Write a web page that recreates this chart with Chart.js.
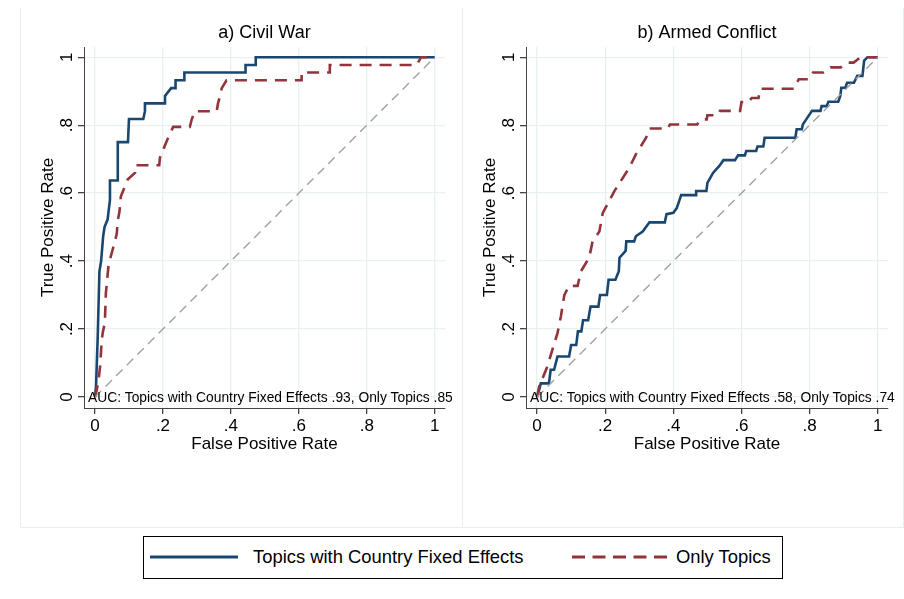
<!DOCTYPE html>
<html>
<head>
<meta charset="utf-8">
<script src="https://cdn.jsdelivr.net/npm/chart.js@4.4.1/dist/chart.umd.min.js"></script>
<style>
  body { margin: 0; background: #fff; font-family: "Liberation Sans", Arial, sans-serif; }
  #fig { position: relative; width: 904px; height: 599px; }
  .panel { position: absolute; top: 8px; height: 519px; border-left: 1px solid #e6eef0; border-bottom: 1px solid #e6eef0; }
  #panelA { left: 20px; width: 441px; }
  #panelB { left: 462px; width: 440px; border-right: 1px solid #e6eef0; }
  canvas { display: block; }
  #legend { position: absolute; left: 143px; top: 536px; width: 640px; height: 43px; box-sizing: border-box; border: 1px solid #000; font-size: 18.4px; color: #000; }
  #legend svg, #legend span { position: absolute; }
  #legend span { top: 9px; line-height: 22px; white-space: nowrap; }
</style>
</head>
<body>
<div id="fig">
  <div class="panel" id="panelA"><canvas id="civilWar" width="441" height="519"></canvas></div>
  <div class="panel" id="panelB"><canvas id="armedConflict" width="440" height="519"></canvas></div>
  <div id="legend">
    <svg style="left:6px;top:17px" width="90" height="6"><line x1="0" y1="3" x2="88" y2="3" stroke="#1a476f" stroke-width="3"/></svg>
    <span id="legFe" style="left:109px"></span>
    <svg style="left:428px;top:17px" width="98" height="6"><line x1="0" y1="3" x2="96" y2="3" stroke="#90353b" stroke-width="3" stroke-dasharray="13 7.5"/></svg>
    <span id="legTop" style="left:532px"></span>
  </div>
</div>
<script>
const seriesNames = ["Topics with Country Fixed Effects", "Only Topics"];
const panelTitles = ["a) Civil War", "b) Armed Conflict"];
const tickVals = [0, 0.2, 0.4, 0.6, 0.8, 1];
const tickLabels = ["0", ".2", ".4", ".6", ".8", "1"];

// ROC vertices (false positive rate, true positive rate)
const civilFeFpr = [0, 0.003, 0.008, 0.013, 0.018, 0.024, 0.028, 0.037, 0.044, 0.044, 0.067, 0.067, 0.097, 0.1, 0.142, 0.147, 0.147, 0.206, 0.206, 0.224, 0.237, 0.237, 0.263, 0.263, 0.443, 0.443, 0.473, 0.473, 1];
const civilFeTpr = [0, 0.03, 0.178, 0.37, 0.40, 0.473, 0.50, 0.522, 0.58, 0.637, 0.637, 0.75, 0.75, 0.818, 0.818, 0.841, 0.864, 0.864, 0.886, 0.909, 0.909, 0.932, 0.932, 0.955, 0.955, 0.977, 0.977, 1, 1];
const civilTopFpr = [0, 0.005, 0.011, 0.015, 0.02, 0.023, 0.029, 0.032, 0.04, 0.052, 0.064, 0.067, 0.072, 0.076, 0.096, 0.118, 0.118, 0.189, 0.191, 0.213, 0.23, 0.279, 0.285, 0.294, 0.358, 0.362, 0.368, 0.373, 0.387, 0.608, 0.608, 0.691, 0.691, 0.946, 0.96, 1];
const civilTopTpr = [0, 0.02, 0.055, 0.09, 0.17, 0.19, 0.22, 0.306, 0.39, 0.434, 0.48, 0.52, 0.545, 0.59, 0.64, 0.66, 0.682, 0.682, 0.704, 0.758, 0.795, 0.795, 0.818, 0.841, 0.841, 0.864, 0.886, 0.909, 0.932, 0.932, 0.955, 0.955, 0.977, 0.977, 1, 1];
const armedFeFpr = [0, 0.006, 0.011, 0.035, 0.04, 0.05, 0.06, 0.094, 0.1, 0.115, 0.12, 0.13, 0.135, 0.15, 0.157, 0.18, 0.185, 0.205, 0.21, 0.23, 0.24, 0.242, 0.26, 0.262, 0.285, 0.29, 0.31, 0.33, 0.375, 0.38, 0.40, 0.41, 0.423, 0.467, 0.467, 0.497, 0.5, 0.517, 0.535, 0.547, 0.581, 0.59, 0.61, 0.614, 0.643, 0.647, 0.664, 0.668, 0.758, 0.762, 0.777, 0.78, 0.79, 0.807, 0.832, 0.835, 0.85, 0.855, 0.884, 0.89, 0.893, 0.905, 0.91, 0.93, 0.94, 0.955, 0.96, 0.97, 1];
const armedFeTpr = [0, 0.02, 0.04, 0.04, 0.08, 0.08, 0.119, 0.119, 0.153, 0.153, 0.193, 0.193, 0.226, 0.226, 0.266, 0.266, 0.3, 0.3, 0.345, 0.345, 0.37, 0.41, 0.43, 0.458, 0.458, 0.473, 0.487, 0.514, 0.514, 0.538, 0.542, 0.556, 0.594, 0.594, 0.606, 0.606, 0.63, 0.66, 0.68, 0.697, 0.697, 0.711, 0.711, 0.724, 0.724, 0.737, 0.737, 0.763, 0.763, 0.788, 0.788, 0.802, 0.817, 0.842, 0.842, 0.856, 0.856, 0.869, 0.869, 0.886, 0.91, 0.91, 0.925, 0.925, 0.945, 0.945, 0.99, 1, 1];
const armedTopFpr = [0, 0.006, 0.03, 0.045, 0.06, 0.07, 0.08, 0.094, 0.119, 0.129, 0.153, 0.163, 0.183, 0.193, 0.208, 0.227, 0.252, 0.271, 0.29, 0.32, 0.33, 0.384, 0.39, 0.47, 0.483, 0.498, 0.5, 0.53, 0.537, 0.596, 0.6, 0.62, 0.63, 0.65, 0.655, 0.754, 0.768, 0.798, 0.81, 0.841, 0.861, 0.891, 0.91, 0.929, 0.95, 1];
const armedTopTpr = [0, 0.03, 0.089, 0.139, 0.188, 0.237, 0.3, 0.327, 0.327, 0.37, 0.41, 0.458, 0.487, 0.542, 0.57, 0.606, 0.645, 0.675, 0.714, 0.763, 0.79, 0.79, 0.802, 0.802, 0.817, 0.817, 0.829, 0.829, 0.842, 0.842, 0.868, 0.868, 0.88, 0.88, 0.907, 0.907, 0.935, 0.935, 0.955, 0.955, 0.97, 0.97, 0.984, 0.984, 1, 1];
const chanceLine = [0, 1];
const civilAuc = [".93", ".85"];
const armedAuc = [".58", ".74"];

Chart.defaults.font.family = '"Liberation Sans", Arial, sans-serif';
Chart.defaults.color = "#000";

// AUC note written along the bottom of the plot area
const aucNote = {
  id: "aucNote",
  afterDatasetsDraw(chart, args, opts) {
    const { ctx, chartArea, scales } = chart;
    ctx.save();
    ctx.font = '13.8px "Liberation Sans", Arial, sans-serif';
    ctx.fillStyle = "#000";
    ctx.textAlign = "left";
    ctx.textBaseline = "middle";
    ctx.fillText(opts.text, chartArea.left + 4, scales.y.getPixelForValue(0) + 1);
    ctx.restore();
  }
};

function points(xs, ys) {
  return xs.map((x, i) => ({ x: x, y: ys[i] }));
}

function axis(label, vertical) {
  const cfg = {
    type: "linear",
    min: -0.0324,
    max: 1.03,
    afterBuildTicks: s => { s.ticks = tickVals.map(v => ({ value: v })); },
    afterFit: s => { if (vertical) s.width = 63; else s.height = 60; },
    grid: { color: "#e8f0f2", lineWidth: 1.3, tickLength: 6, tickColor: "#444", drawTicks: true },
    border: { color: "#444", width: 1 },
    ticks: { font: { size: 17 }, padding: vertical ? 4 : 2, callback: (v, i) => tickLabels[i] },
    title: { display: true, text: label, font: { size: 17 } }
  };
  if (vertical) {
    cfg.ticks.minRotation = 90;
    cfg.ticks.maxRotation = 90;
    cfg.ticks.crossAlign = "center";
    cfg.title.padding = { top: 17, bottom: 0 };
  } else {
    cfg.ticks.maxRotation = 0;
    cfg.title.padding = { top: 0, bottom: 13 };
  }
  return cfg;
}

function rocPanel(id, title, feX, feY, topX, topY, auc, padRight) {
  new Chart(document.getElementById(id), {
    type: "line",
    data: {
      datasets: [
        { label: seriesNames[0], data: points(feX, feY), borderColor: "#1a476f", borderWidth: 2.6, pointRadius: 0, order: 2 },
        { label: seriesNames[1], data: points(topX, topY), borderColor: "#90353b", borderWidth: 2.6, borderDash: [12, 8], pointRadius: 0, order: 1 },
        { label: "chance", data: points(chanceLine, chanceLine), borderColor: "#a0a0a0", borderWidth: 1.4, borderDash: [9, 6], pointRadius: 0, order: 0 }
      ]
    },
    options: {
      responsive: false,
      animation: false,
      layout: { padding: { top: 0, left: 0, right: padRight, bottom: 59 } },
      scales: {
        x: axis("False Positive Rate", false),
        y: axis("True Positive Rate", true)
      },
      plugins: {
        legend: { display: false },
        tooltip: { enabled: false },
        title: { display: true, text: title, fullSize: false, font: { size: 18, weight: "normal" }, padding: { top: 14, bottom: 3.4 } },
        aucNote: { text: "AUC: " + seriesNames[0] + " " + auc[0] + ", " + seriesNames[1] + " " + auc[1] }
      }
    },
    plugins: [aucNote]
  });
}

rocPanel("civilWar", panelTitles[0], civilFeFpr, civilFeTpr, civilTopFpr, civilTopTpr, civilAuc, 17);
rocPanel("armedConflict", panelTitles[1], armedFeFpr, armedFeTpr, armedTopFpr, armedTopTpr, armedAuc, 15);

document.getElementById("legFe").textContent = seriesNames[0];
document.getElementById("legTop").textContent = seriesNames[1];
</script>
</body>
</html>
